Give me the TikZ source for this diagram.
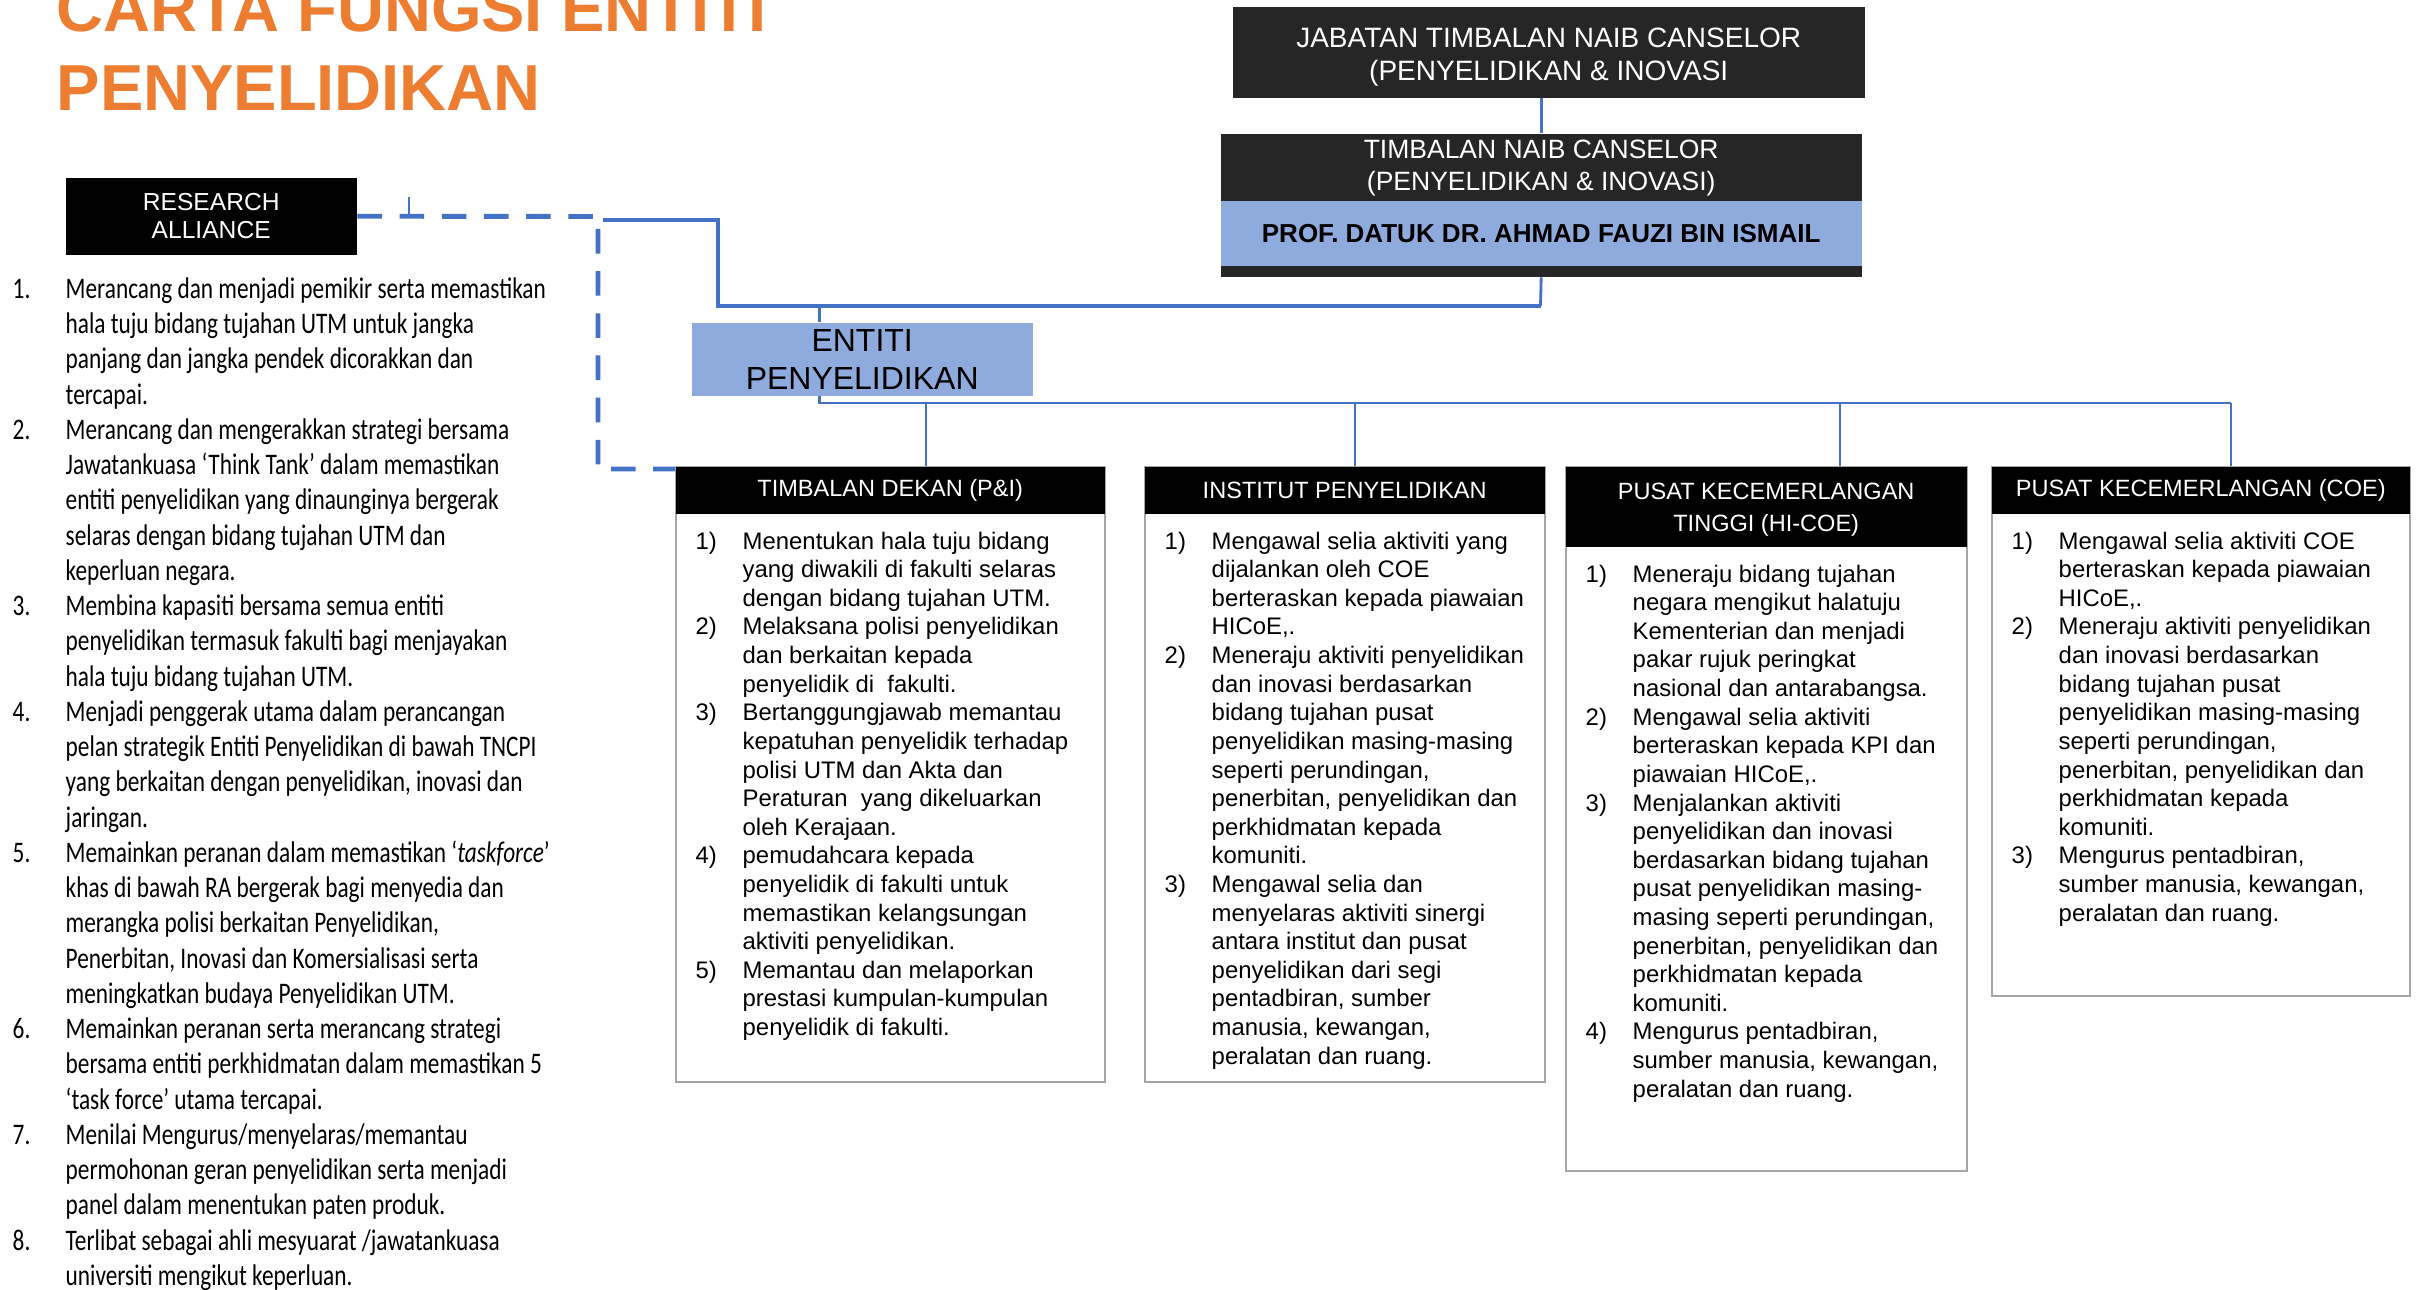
\documentclass[tikz,border=0pt]{standalone}
\usepackage{fontspec}
\setmainfont{Liberation Sans}
\newfontfamily\narrowfont{Carlito}[FakeStretch=0.78]

\definecolor{titleorange}{HTML}{ED7D31}
\definecolor{linkblue}{HTML}{4472C4}
\definecolor{namefill}{HTML}{8FAADC}
\definecolor{darkfill}{HTML}{262626}
\definecolor{cardline}{HTML}{A6A6A6}

\begin{document}
\begin{tikzpicture}[
  x=1cm, y=-1cm,
  darkbox/.style={fill=darkfill, inner sep=0pt, text=white, align=center, anchor=north west},
  namebox/.style={fill=namefill, inner sep=0pt, align=center, anchor=north west},
  card/.style={draw=cardline, line width=0.6pt, fill=white, inner sep=0pt, anchor=north west},
  cardhead/.style={fill=black, text=white, inner sep=0pt, align=center, anchor=north west, font=\fontsize{6.7}{9.1}\selectfont},
  cardtext/.style={inner sep=0pt, anchor=north west, font=\fontsize{6.8}{8.14}\selectfont},
  thinlink/.style={linkblue, line width=0.8pt},
  thicklink/.style={linkblue, line width=1.4pt},
  ralink/.style={linkblue, line width=1.4pt, dash pattern=on 7pt off 5pt},
]
\useasboundingbox (0,0) rectangle (24.18,12.90);

% title
\node [anchor=base west, inner sep=0pt, align=left, text=titleorange, font=\fontsize{18.5}{22.2}\selectfont\bfseries] (title) at (0.56,1.10) {CARTA FUNGSI ENTITI\\PENYELIDIKAN};

% research alliance
\node [fill=black, text=white, inner sep=0pt, minimum width=2.91cm, minimum height=0.77cm, align=center, anchor=north west, font=\fontsize{7}{8}\selectfont] (ra) at (0.65,1.77) {RESEARCH\\ALLIANCE};

\node [anchor=north west, inner sep=0pt, font=\narrowfont\fontsize{8.5}{10.03}\selectfont] (ralist) at (0.12,2.73) {%
\begin{tabular}{@{}p{0.53cm}@{}l@{}}
1. & Merancang dan menjadi pemikir serta memastikan\\
   & hala tuju bidang tujahan UTM untuk jangka\\
   & panjang dan jangka pendek dicorakkan dan\\
   & tercapai.\\
2. & Merancang dan mengerakkan strategi bersama\\
   & Jawatankuasa ‘Think Tank’ dalam memastikan\\
   & entiti penyelidikan yang dinaunginya bergerak\\
   & selaras dengan bidang tujahan UTM dan\\
   & keperluan negara.\\
3. & Membina kapasiti bersama semua entiti\\
   & penyelidikan termasuk fakulti bagi menjayakan\\
   & hala tuju bidang tujahan UTM.\\
4. & Menjadi penggerak utama dalam perancangan\\
   & pelan strategik Entiti Penyelidikan di bawah TNCPI\\
   & yang berkaitan dengan penyelidikan, inovasi dan\\
   & jaringan.\\
5. & Memainkan peranan dalam memastikan ‘\textit{taskforce}’\\
   & khas di bawah RA bergerak bagi menyedia dan\\
   & merangka polisi berkaitan Penyelidikan,\\
   & Penerbitan, Inovasi dan Komersialisasi serta\\
   & meningkatkan budaya Penyelidikan UTM.\\
6. & Memainkan peranan serta merancang strategi\\
   & bersama entiti perkhidmatan dalam memastikan 5\\
   & ‘task force’ utama tercapai.\\
7. & Menilai Mengurus/menyelaras/memantau\\
   & permohonan geran penyelidikan serta menjadi\\
   & panel dalam menentukan paten produk.\\
8. & Terlibat sebagai ahli mesyuarat /jawatankuasa\\
   & universiti mengikut keperluan.
\end{tabular}};

% top of the chart
\node [darkbox, minimum width=6.32cm, minimum height=0.91cm, text height=0.63cm, font=\fontsize{7.97}{9.4}\selectfont] (jab) at (12.32,0.06) {JABATAN TIMBALAN NAIB CANSELOR\\(PENYELIDIKAN \& INOVASI};

\node [darkbox, minimum width=6.41cm, minimum height=1.43cm] (tnc) at (12.20,1.33) {};
\node [anchor=north, inner sep=0pt, text=white, align=center, font=\fontsize{7.54}{9.1}\selectfont] (tnctitle) at ([yshift=-0.06cm]tnc.north) {TIMBALAN NAIB CANSELOR\\(PENYELIDIKAN \& INOVASI)};
\node [namebox, minimum width=6.41cm, minimum height=0.65cm, font=\fontsize{7.4}{9}\selectfont\bfseries] (tncname) at ([yshift=-0.67cm]tnc.north west) {PROF. DATUK DR. AHMAD FAUZI BIN ISMAIL};

\node [namebox, minimum width=3.41cm, minimum height=0.73cm, font=\fontsize{9.1}{10.8}\selectfont] (entiti) at (6.91,3.22) {ENTITI\\PENYELIDIKAN};

% cards
\node [card, minimum width=4.29cm, minimum height=6.15cm] (dekan) at (6.75,4.66) {};
\node [cardhead, minimum width=4.29cm, minimum height=0.47cm] (dekanhead) at (dekan.north west) {TIMBALAN DEKAN (P\&I)};
\node [cardtext] (dekantext) at ([shift={(0.20,0.14)}]dekanhead.south west) {%
\begin{tabular}{@{}p{0.47cm}@{}l@{}}
1) & Menentukan hala tuju bidang\\
   & yang diwakili di fakulti selaras\\
   & dengan bidang tujahan UTM.\\
2) & Melaksana polisi penyelidikan\\
   & dan berkaitan kepada\\
   & penyelidik di\ \ fakulti.\\
3) & Bertanggungjawab memantau\\
   & kepatuhan penyelidik terhadap\\
   & polisi UTM dan Akta dan\\
   & Peraturan\ \ yang dikeluarkan\\
   & oleh Kerajaan.\\
4) & pemudahcara kepada\\
   & penyelidik di fakulti untuk\\
   & memastikan kelangsungan\\
   & aktiviti penyelidikan.\\
5) & Memantau dan melaporkan\\
   & prestasi kumpulan-kumpulan\\
   & penyelidik di fakulti.
\end{tabular}};

\node [card, minimum width=4.00cm, minimum height=6.15cm] (inst) at (11.44,4.66) {};
\node [cardhead, minimum width=4.00cm, minimum height=0.47cm] (insthead) at (inst.north west) {INSTITUT PENYELIDIKAN};
\node [cardtext] (insttext) at ([shift={(0.20,0.14)}]insthead.south west) {%
\begin{tabular}{@{}p{0.47cm}@{}l@{}}
1) & Mengawal selia aktiviti yang\\
   & dijalankan oleh COE\\
   & berteraskan kepada piawaian\\
   & HICoE,.\\
2) & Meneraju aktiviti penyelidikan\\
   & dan inovasi berdasarkan\\
   & bidang tujahan pusat\\
   & penyelidikan masing-masing\\
   & seperti perundingan,\\
   & penerbitan, penyelidikan dan\\
   & perkhidmatan kepada\\
   & komuniti.\\
3) & Mengawal selia dan\\
   & menyelaras aktiviti sinergi\\
   & antara institut dan pusat\\
   & penyelidikan dari segi\\
   & pentadbiran, sumber\\
   & manusia, kewangan,\\
   & peralatan dan ruang.
\end{tabular}};

\node [card, minimum width=4.01cm, minimum height=7.04cm] (hicoe) at (15.65,4.66) {};
\node [cardhead, minimum width=4.01cm, minimum height=0.80cm, text height=0.55cm] (hicoehead) at (hicoe.north west) {PUSAT KECEMERLANGAN\\TINGGI (HI-COE)};
\node [cardtext] (hicoetext) at ([shift={(0.20,0.14)}]hicoehead.south west) {%
\begin{tabular}{@{}p{0.47cm}@{}l@{}}
1) & Meneraju bidang tujahan\\
   & negara mengikut halatuju\\
   & Kementerian dan menjadi\\
   & pakar rujuk peringkat\\
   & nasional dan antarabangsa.\\
2) & Mengawal selia aktiviti\\
   & berteraskan kepada KPI dan\\
   & piawaian HICoE,.\\
3) & Menjalankan aktiviti\\
   & penyelidikan dan inovasi\\
   & berdasarkan bidang tujahan\\
   & pusat penyelidikan masing-\\
   & masing seperti perundingan,\\
   & penerbitan, penyelidikan dan\\
   & perkhidmatan kepada\\
   & komuniti.\\
4) & Mengurus pentadbiran,\\
   & sumber manusia, kewangan,\\
   & peralatan dan ruang.
\end{tabular}};

\node [card, minimum width=4.18cm, minimum height=5.29cm] (coe) at (19.91,4.66) {};
\node [cardhead, minimum width=4.18cm, minimum height=0.47cm] (coehead) at (coe.north west) {PUSAT KECEMERLANGAN (COE)};
\node [cardtext] (coetext) at ([shift={(0.20,0.14)}]coehead.south west) {%
\begin{tabular}{@{}p{0.47cm}@{}l@{}}
1) & Mengawal selia aktiviti COE\\
   & berteraskan kepada piawaian\\
   & HICoE,.\\
2) & Meneraju aktiviti penyelidikan\\
   & dan inovasi berdasarkan\\
   & bidang tujahan pusat\\
   & penyelidikan masing-masing\\
   & seperti perundingan,\\
   & penerbitan, penyelidikan dan\\
   & perkhidmatan kepada\\
   & komuniti.\\
3) & Mengurus pentadbiran,\\
   & sumber manusia, kewangan,\\
   & peralatan dan ruang.
\end{tabular}};

% connectors
\coordinate (rabend) at (5.98,2.165);
\coordinate (raside) at (6.03,2.20);
\coordinate (ratick) at (4.09,1.97);
\coordinate (tncjoin) at (15.405,3.06);
\coordinate (entup) at ([xshift=-0.425cm]entiti.north);
\coordinate (entdown) at ([xshift=-0.425cm]entiti.south);
\coordinate (busend) at (22.31,4.03);

\draw [thinlink] (jab.south -| tnc.north) -- (tnc.north);
\draw [thinlink] (tnc.south) -- (tncjoin);
\draw [ralink] (ra.east) -- (rabend) |- ([yshift=-0.03cm]dekan.north west);
\draw [thinlink] (ratick) -- (ratick |- rabend);
\draw [thicklink] (raside) -| (7.18,3.06) -- (tncjoin);
\draw [thinlink] (entup) -- (entup |- tncjoin);
\draw [thinlink] (entdown) |- (busend);
\foreach \card/\x in {dekan/9.26, inst/13.55, hicoe/18.40, coe/22.31}
  \draw [thinlink] (\x,4.03) -- (\x,4.03 |- \card.north);

\end{tikzpicture}
\end{document}
